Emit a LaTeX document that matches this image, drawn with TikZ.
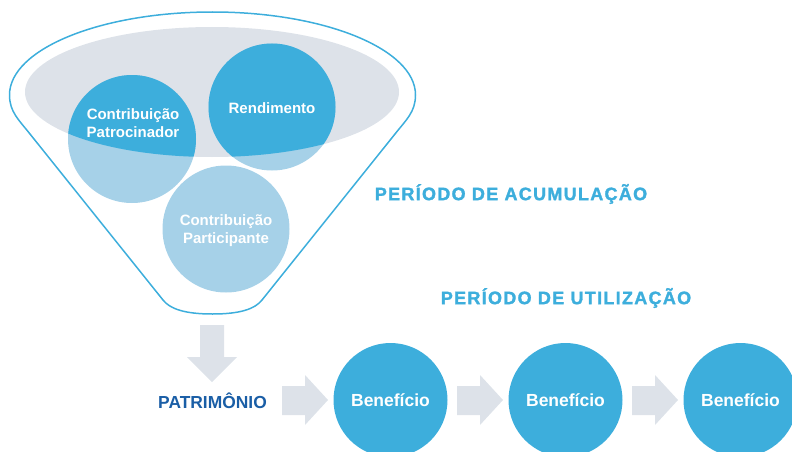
\documentclass[tikz,border=0pt]{standalone}
\usepackage{fontspec}
\setmainfont{Liberation Sans}
\newfontfamily\spacedfont[LetterSpace=7.2, BoldFont={Liberation Sans Bold}, BoldFeatures={FakeBold=1.6}]{Liberation Sans}
\definecolor{fblue}{HTML}{3DAEDC}
\definecolor{lblue}{HTML}{A6D1E8}
\definecolor{fgray}{HTML}{DDE2E9}
\definecolor{dblue}{HTML}{1A5EA6}
\tikzset{
  lbl/.style={circle, minimum size=126pt, inner sep=0pt},
  lbltext/.style={text=white, font=\fontsize{15}{18}\selectfont\bfseries, align=center},
  bene/.style={circle, fill=fblue, minimum size=114pt, inner sep=0pt, text=white, font=\fontsize{17.5}{20}\selectfont\bfseries},
  period/.style={text=fblue, font=\fontsize{18}{20}\selectfont\spacedfont\bfseries},
  blockarrow/.style={fill=fgray},
}
\begin{document}
\begin{tikzpicture}[x=1pt,y=-1pt]
\useasboundingbox (0,0) rectangle (792,452);
\clip (0,0) rectangle (792,452);
% funnel outline
\draw[fblue, line width=1.5pt]
  (9.5,95) arc[start angle=180, end angle=0, x radius=203pt, y radius=83pt]
  .. controls (415.5,112) and (406,120) .. (395,134)
  -- (262,300) .. controls (255,309) and (240,314) .. (212.5,314)
  .. controls (185,314) and (170,309) .. (163,300)
  -- (30,134) .. controls (19,120) and (9.5,112) .. (9.5,95);
% gray ellipse
\fill[fgray] (212,92) ellipse[x radius=187pt, y radius=65pt];
% circle fills
\fill[lblue] (132,139) circle[radius=64pt];
\fill[lblue] (272,107) circle[radius=63.5pt];
\fill[lblue] (226,229) circle[radius=63.5pt];
\begin{scope}
  \clip (212,92) ellipse[x radius=187pt, y radius=65pt];
  \fill[fblue] (132,139) circle[radius=64pt];
  \fill[fblue] (272,107) circle[radius=63.5pt];
\end{scope}
% circle labels
\node[lbl] (cpat) at (132,139) {};
\node[lbltext] (cpatt) at (133,123) {Contribuição\\Patrocinador};
\node[lbl] (rend) at (272,107) {};
\node[lbltext] (rendt) at (272,108) {Rendimento};
\node[lbl] (cpar) at (226,229) {};
\node[lbltext] (cpart) at (226,231) {Contribuição\\Participante};
% period titles
\node[period] (acum) at (511,194) {PERÍODO DE ACUMULAÇÃO};
\node[period] (util) at (566,298) {PERÍODO DE UTILIZAÇÃO};
% patrimonio
\node[text=dblue, font=\fontsize{17.4}{20}\selectfont\bfseries] (pat) at (212.5,401) {PATRIMÔNIO};
% down arrow
\fill[blockarrow] (200,325) -- (224,325) -- (224,357) -- (237,357) -- (212,382) -- (187,357) -- (200,357) -- cycle;
% right arrows
\foreach \dx in {0,175,350}{
  \fill[blockarrow] (282+\dx,386) -- (305+\dx,386) -- (305+\dx,375) -- (328+\dx,400) -- (305+\dx,425) -- (305+\dx,415) -- (282+\dx,415) -- cycle;
}
% benefit circles
\node[bene] (b1) at (390.5,400) {Benefício};
\node[bene] (b2) at (565.5,400) {Benefício};
\node[bene] (b3) at (740.5,400) {Benefício};
\end{tikzpicture}
\end{document}
